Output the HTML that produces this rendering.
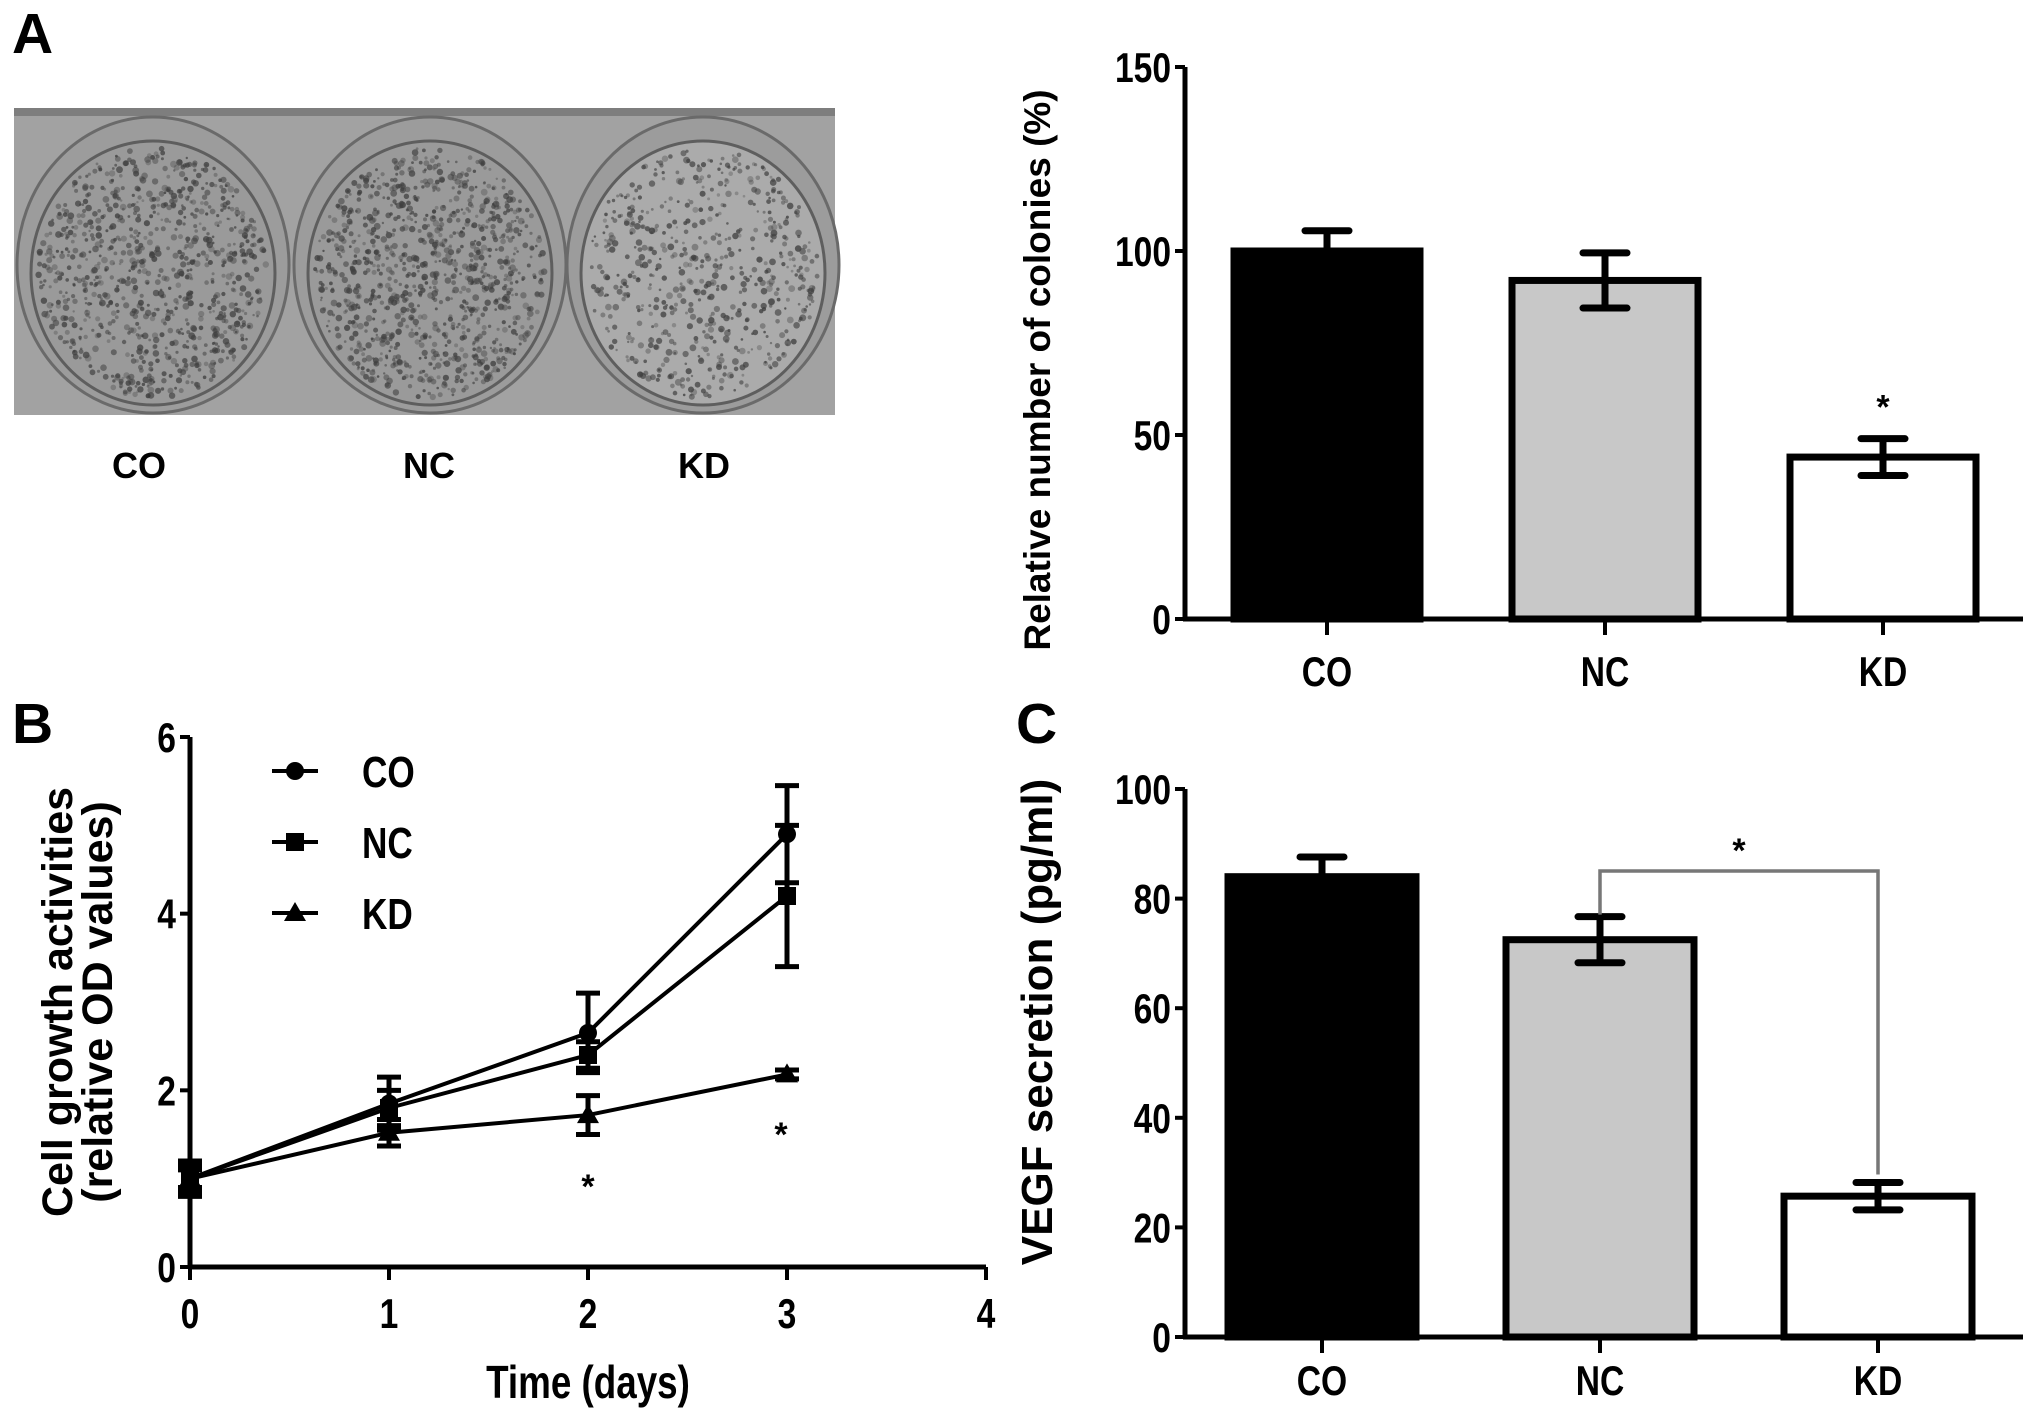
<!DOCTYPE html>
<html><head><meta charset="utf-8">
<style>
html,body{margin:0;padding:0;background:#fff;}
svg{display:block;}
.t{font-family:"Liberation Sans Narrow","Liberation Sans",sans-serif;font-weight:bold;fill:#000;}
.w{font-family:"Liberation Sans",sans-serif;font-weight:bold;fill:#000;}
</style></head>
<body>
<svg id="fig" width="2031" height="1415" viewBox="0 0 2031 1415" xmlns="http://www.w3.org/2000/svg">
  <text x="12" y="53" class="w" font-size="57">A</text>
  <text x="12" y="743" class="w" font-size="57">B</text>
  <text x="1016" y="743" class="w" font-size="57">C</text>
  <g id="photo">
    <rect x="14" y="108" width="821" height="307" fill="#a2a2a2"/>
    <rect x="14" y="108" width="821" height="8" fill="#7e7e7e"/>
  </g>
  <text x="139" y="478" class="w" font-size="36" text-anchor="middle">CO</text>
  <text x="429" y="478" class="w" font-size="36" text-anchor="middle">NC</text>
  <text x="704" y="478" class="w" font-size="36" text-anchor="middle">KD</text>
  <g id="chartA"></g>
  <g id="chartB"></g>
  <g id="chartC"></g>
</svg>
<script>
// ---- data ----
const barCats = ["CO", "NC", "KD"];
const colonyVals = [100, 92, 44];
const colonyErr = [5.5, 7.5, 5];
const colonyTicks = [0, 50, 100, 150];
const vegfVals = [84, 72.5, 25.7];
const vegfErr = [3.6, 4.2, 2.5];
const vegfTicks = [0, 20, 40, 60, 80, 100];
const days = [0, 1, 2, 3];
const dayTicks = [0, 1, 2, 3, 4];
const odTicks = [0, 2, 4, 6];
const coVals = [1.0, 1.85, 2.65, 4.9];
const coErr = [0.2, 0.3, 0.45, 0.55];
const ncVals = [1.0, 1.8, 2.4, 4.2];
const ncErr = [0.15, 0.2, 0.15, 0.8];
const kdVals = [1.0, 1.52, 1.72, 2.18];
const kdErr = [0.1, 0.15, 0.22, 0.05];

const NS = "http://www.w3.org/2000/svg";
function mk(parent, tag, attrs, text) {
  const e = document.createElementNS(NS, tag);
  for (const k in attrs) e.setAttribute(k, attrs[k]);
  if (text !== undefined) e.textContent = text;
  parent.appendChild(e);
  return e;
}
// condensed bold text
function ct(parent, x, y, size, anchor, str) {
  return mk(parent, "text", {x: 0, y: 0, class: "t", "font-size": size, "text-anchor": anchor,
    transform: `translate(${x},${y}) scale(0.8,1)`}, str);
}

// ---- photo speckles (decorative) ----
(function () {
  const g = document.getElementById("photo");
  let s = 12345;
  function rnd() { s = (s * 1103515245 + 12345) % 2147483648; return s / 2147483648; }
  const dishes = [[153, 0.8], [430, 0.9], [703, 0.55]];
  dishes.forEach(function (d, i) {
    const cx = d[0], cy = 265;
    const outer = mk(g, "ellipse", {cx: cx, cy: cy, rx: 136, ry: 148, fill: "#9c9c9c", stroke: "#6a6a6a", "stroke-width": 3});
    
    
    const inner = mk(g, "ellipse", {cx: cx, cy: cy + 8, rx: 122, ry: 132, fill: i === 2 ? "#ababab" : "#9a9a9a", stroke: "#5e5e5e", "stroke-width": 3});
    
    
    const n = Math.round(1100 * d[1]);
    for (let k = 0; k < n; k++) {
      const a = rnd() * 2 * Math.PI, r = Math.sqrt(rnd());
      const x = cx + Math.cos(a) * r * 115, y = cy + 8 + Math.sin(a) * r * 125;
      mk(g, "circle", {cx: x.toFixed(1), cy: y.toFixed(1), r: (1.2 + rnd() * 2.2).toFixed(1), fill: "#404040", opacity: (0.3 + rnd() * 0.5).toFixed(2)});
    }
  });
})();

// ---- bar chart helper ----
function barChart(gid, o) {
  const g = document.getElementById(gid);
  const y = v => o.y0 - (v - 0) * (o.y0 - o.yTop) / (o.ticks[o.ticks.length - 1]);
  const xc = i => o.x0c + i * o.step;
  const axY = mk(g, "line", {x1: o.ax, y1: y(o.ticks[o.ticks.length - 1]), x2: o.ax, y2: o.y0 + 2, stroke: "#000", "stroke-width": 5});
  
  
  const axX = mk(g, "line", {x1: o.ax - 2, y1: o.y0, x2: o.xEnd, y2: o.y0, stroke: "#000", "stroke-width": 5});
  
  
  o.ticks.forEach(t => {
    mk(g, "line", {x1: o.ax - 10, y1: y(t), x2: o.ax, y2: y(t), stroke: "#000", "stroke-width": 4});
    const lb = ct(g, o.ax - 14, y(t) + 15, 42, "end", String(t));
    
    
  });
  const fills = ["#000", "#c8c8c8", "#fff"];
  o.vals.forEach((v, i) => {
    const c = xc(i);
    mk(g, "line", {x1: c, y1: o.y0, x2: c, y2: o.y0 + 16, stroke: "#000", "stroke-width": 4});
    const lb = ct(g, c, o.labY, 42, "middle", o.cats[i]);
    
    
    const b = mk(g, "rect", {x: c - o.bw / 2, y: y(v), width: o.bw, height: o.y0 - y(v), fill: fills[i], stroke: "#000", "stroke-width": 7});
    
    
    const e = o.err[i];
    const lo = i === 0 ? v : v - e;
    const eb = mk(g, "path", {d: `M${c},${y(lo)}V${y(v + e)}M${c - 22},${y(v + e)}H${c + 22}` + (i === 0 ? "" : `M${c - 22},${y(v - e)}H${c + 22}`), stroke: "#000", "stroke-width": 7, fill: "none", "stroke-linecap": "round"});
    
    
  });
  const tt = mk(g, "text", {x: 0, y: 0, class: "w", "font-size": o.titleSize, "text-anchor": "middle", transform: `translate(${o.titleX},${o.titleY}) rotate(-90)`}, o.title);
  
  
  return {y: y, xc: xc, g: g};
}

const A = barChart("chartA", {cats: barCats, vals: colonyVals, err: colonyErr, ticks: colonyTicks,
  ax: 1185, y0: 619, yTop: 67, xEnd: 2023, x0c: 1327, step: 278, bw: 186, labY: 686,
  title: "Relative number of colonies (%)", titleSize: 37, titleX: 1050, titleY: 370});
const sa = mk(A.g, "text", {x: A.xc(2), y: A.y(colonyVals[2] + colonyErr[2]) - 20, class: "t", "font-size": 34, "text-anchor": "middle"}, "*");



const C = barChart("chartC", {cats: barCats, vals: vegfVals, err: vegfErr, ticks: vegfTicks,
  ax: 1185, y0: 1337, yTop: 789, xEnd: 2023, x0c: 1322, step: 278, bw: 188, labY: 1395,
  title: "VEGF secretion (pg/ml)", titleSize: 44, titleX: 1052, titleY: 1022});
const br = mk(C.g, "path", {d: `M${C.xc(1)},${C.y(vegfVals[1] + vegfErr[1]) - 2}V871H${C.xc(2)}V${C.y(vegfVals[2] + vegfErr[2]) - 8}`, stroke: "#777", "stroke-width": 3.5, fill: "none"});


const sc = mk(C.g, "text", {x: (C.xc(1) + C.xc(2)) / 2, y: 862, class: "t", "font-size": 34, "text-anchor": "middle"}, "*");



// ---- line chart ----
(function () {
  const g = document.getElementById("chartB");
  const x = d => 190 + d * 199;
  const y = v => 1267 - v * (1267 - 737) / 6;
  const ay = mk(g, "line", {x1: 190, y1: y(6), x2: 190, y2: 1269, stroke: "#000", "stroke-width": 5});
  
  
  const ax = mk(g, "line", {x1: 188, y1: 1267, x2: x(4), y2: 1267, stroke: "#000", "stroke-width": 5});
  
  
  odTicks.forEach(t => {
    mk(g, "line", {x1: 180, y1: y(t), x2: 190, y2: y(t), stroke: "#000", "stroke-width": 4});
    const l = ct(g, 176, y(t) + 15, 42, "end", String(t));
    
    
  });
  dayTicks.forEach(t => {
    mk(g, "line", {x1: x(t), y1: 1267, x2: x(t), y2: 1280, stroke: "#000", "stroke-width": 4});
    const l = ct(g, x(t), 1328, 42, "middle", String(t));
    
    
  });
  const xt = ct(g, x(2), 1398, 46, "middle", "Time (days)");
  
  
  const yt1 = mk(g, "text", {x: 0, y: 0, class: "w", "font-size": 43, "text-anchor": "middle", transform: "translate(72,1002) rotate(-90)"}, "Cell growth activities");
  
  
  const yt2 = mk(g, "text", {x: 0, y: 0, class: "w", "font-size": 43, "text-anchor": "middle", transform: "translate(112,1002) rotate(-90)"}, "(relative OD values)");
  
  

  function marker(parent, kind, cx, cy) {
    if (kind === "circle") return mk(parent, "circle", {cx: cx, cy: cy, r: 9, fill: "#000"});
    if (kind === "square") return mk(parent, "rect", {x: cx - 9, y: cy - 9, width: 18, height: 18, fill: "#000"});
    return mk(parent, "path", {d: `M${cx},${cy - 11}L${cx + 11},${cy + 8}L${cx - 11},${cy + 8}Z`, fill: "#000"});
  }
  const series = [["CO", coVals, coErr, "circle"], ["NC", ncVals, ncErr, "square"], ["KD", kdVals, kdErr, "triangle"]];
  series.forEach((s, si) => {
    const sg = mk(g, "g", {});
    
    
    const pts = days.map((d, i) => x(d) + "," + y(s[1][i])).join(" ");
    mk(sg, "polyline", {points: pts, fill: "none", stroke: "#000", "stroke-width": 4});
    days.forEach((d, i) => {
      const v = s[1][i], e = s[2][i], cx = x(d);
      const eb = mk(sg, "path", {d: `M${cx},${y(v - e)}V${y(v + e)}M${cx - 12},${y(v - e)}H${cx + 12}M${cx - 12},${y(v + e)}H${cx + 12}`, stroke: "#000", "stroke-width": 5, fill: "none"});
      
      
      const m = marker(sg, s[3], cx, y(v));
      
      
    });
    const ly = 771 + si * 71;
    const lg = mk(g, "g", {});
    
    
    mk(lg, "line", {x1: 272, y1: ly, x2: 318, y2: ly, stroke: "#000", "stroke-width": 4});
    marker(lg, s[3], 295, ly);
    ct(lg, 362, ly + 16, 44, "start", s[0]);
  });
  const s1 = mk(g, "text", {x: x(2), y: 1198, class: "t", "font-size": 34, "text-anchor": "middle"}, "*");
  
  
  const s2 = mk(g, "text", {x: x(3) - 6, y: 1146, class: "t", "font-size": 34, "text-anchor": "middle"}, "*");
  
  
})();
</script>
</body></html>
